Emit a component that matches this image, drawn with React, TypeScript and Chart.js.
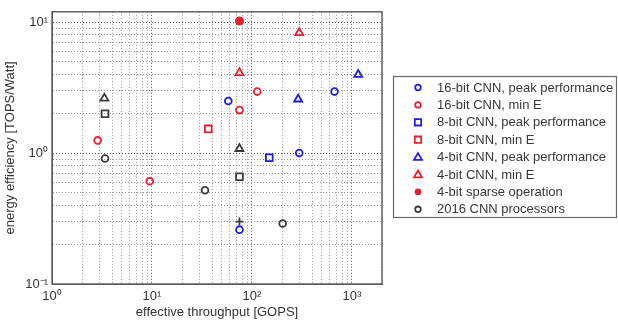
import React, { useEffect, useRef } from "react";
import { Chart, registerables } from "chart.js";

Chart.register(...registerables);

// ---- data ----
const seriesNames = [
  "16-bit CNN, peak performance",
  "16-bit CNN, min E",
  "8-bit CNN, peak performance",
  "8-bit CNN, min E",
  "4-bit CNN, peak performance",
  "4-bit CNN, min E",
  "4-bit sparse operation",
  "2016 CNN processors",
];

const peak16X = [58, 670, 297, 75];
const peak16Y = [2.5, 2.95, 1.0, 0.26];

const minE16X = [2.86, 113, 75, 9.5];
const minE16Y = [1.25, 2.95, 2.13, 0.61];

const peak8X = [149];
const peak8Y = [0.92];

const minE8X = [36.6];
const minE8Y = [1.53];

const peak4X = [1156, 290];
const peak4Y = [3.98, 2.58];

const minE4X = [297, 75];
const minE4Y = [8.3, 4.1];

const sparse4X = [75];
const sparse4Y = [10.2];

const prior2016X = [3.34, 3.39, 3.39, 33.9, 75, 75, 75, 203];
const prior2016Y = [2.62, 2.0, 0.91, 0.52, 1.08, 0.66, 0.3, 0.29];
const prior2016Shapes = ["triangle", "rect", "circle", "circle", "triangle", "rect", "cross", "circle"];

const xDecades = [1, 10, 100, 1000];
const yDecades = [0.1, 1, 10];
const xMin = 1, xMax = 2000;
const yMin = 0.1, yMax = 12;

const supers: Record<string, string> = { "-": "⁻", "0": "⁰", "1": "¹", "2": "²", "3": "³" };
const decadeLabel = (v: number) => {
  const e = Math.round(Math.log10(v)).toString();
  return "10" + e.split("").map((c) => supers[c] || c).join("");
};

const BLUE = "#1e1ee6";
const RED = "#e6202e";
const GRAY = "#3c3c3c";

const pts = (xs: number[], ys: number[]) => xs.map((x, i) => ({ x, y: ys[i] }));

const isDecade = (v: number) => Math.abs(Math.log10(v) - Math.round(Math.log10(v))) < 1e-6;

const logTicks = (lo: number, hi: number) => {
  const out: { value: number }[] = [];
  let d = Math.pow(10, Math.floor(Math.log10(lo)));
  while (d <= hi) {
    for (let m = 1; m < 10; m++) {
      const v = d * m;
      if (v >= lo - 1e-9 && v <= hi + 1e-9) out.push({ value: v });
    }
    d *= 10;
  }
  return out;
};

const FONT = "'Liberation Sans', Arial, sans-serif";

const legendPlugin = {
  id: "boxLegend",
  afterDraw(chart: any) {
    const ctx = chart.ctx;
    ctx.save();
    const bx = 393, by = 76, bw = 223, bh = 141;
    ctx.strokeStyle = "#6a6a6a";
    ctx.lineWidth = 1.2;
    ctx.strokeRect(bx + 0.5, by + 0.5, bw, bh);
    chart.data.datasets.forEach((ds: any, i: number) => {
      const y = 87.5 + i * 17.4;
      const x = 418;
      ctx.strokeStyle = ds.borderColor;
      ctx.fillStyle = ds.backgroundColor;
      ctx.lineWidth = 1.8;
      const style = ds.legendStyle;
      ctx.beginPath();
      if (style === "circle") {
        ctx.arc(x, y, 2.8, 0, Math.PI * 2);
        ctx.stroke();
      } else if (style === "rect") {
        ctx.rect(x - 3.2, y - 3.2, 6.4, 6.4);
        ctx.stroke();
      } else if (style === "triangle") {
        ctx.moveTo(x, y - 4);
        ctx.lineTo(x + 4, y + 2.8);
        ctx.lineTo(x - 4, y + 2.8);
        ctx.closePath();
        ctx.stroke();
      } else if (style === "filled") {
        ctx.arc(x, y, 3.3, 0, Math.PI * 2);
        ctx.fill();
      }
      ctx.fillStyle = "#383838";
      ctx.font = "13px " + FONT;
      ctx.textBaseline = "middle";
      ctx.textAlign = "left";
      ctx.fillText(seriesNames[i], 437, y + 0.5);
    });
    ctx.restore();
  },
};

const framePlugin = {
  id: "frame",
  afterDatasetsDraw(chart: any) {
    const { ctx, chartArea } = chart;
    ctx.save();
    ctx.strokeStyle = "#5a5a5a";
    ctx.lineWidth = 1.4;
    ctx.strokeRect(chartArea.left, chartArea.top, chartArea.right - chartArea.left, chartArea.bottom - chartArea.top);
    ctx.restore();
  },
};

const gridColor = (c: any) => (c.tick && isDecade(c.tick.value) ? "#555555" : "#9a9a9a");

export default function App() {
  const ref = useRef<HTMLCanvasElement | null>(null);

  useEffect(() => {
    if (!ref.current) return;
    const mk = (label: string, data: any, color: string, style: any, radius: any, legendStyle: string, filled = false) => ({
      label,
      data,
      borderColor: color,
      backgroundColor: filled ? color : "rgba(0,0,0,0)",
      pointStyle: style,
      pointRadius: radius,
      pointBorderWidth: 1.8,
      showLine: false,
      legendStyle,
    });
    const chart = new Chart(ref.current, {
      type: "scatter",
      data: {
        datasets: [
          mk(seriesNames[0], pts(peak16X, peak16Y), BLUE, "circle", 3.4, "circle"),
          mk(seriesNames[1], pts(minE16X, minE16Y), RED, "circle", 3.4, "circle"),
          mk(seriesNames[2], pts(peak8X, peak8Y), BLUE, "rect", 4.8, "rect"),
          mk(seriesNames[3], pts(minE8X, minE8Y), RED, "rect", 4.8, "rect"),
          mk(seriesNames[4], pts(peak4X, peak4Y), BLUE, "triangle", 4.6, "triangle"),
          mk(seriesNames[5], pts(minE4X, minE4Y), RED, "triangle", 4.6, "triangle"),
          mk(seriesNames[6], pts(sparse4X, sparse4Y), RED, "circle", 3.6, "filled", true),
          mk(
            seriesNames[7],
            pts(prior2016X, prior2016Y),
            GRAY,
            prior2016Shapes,
            prior2016Shapes.map((s) => (s === "circle" ? 3.4 : s === "rect" ? 4.8 : s === "cross" ? 4 : 4.6)),
            "circle"
          ),
        ] as any,
      },
      options: {
        animation: false,
        responsive: false,
        devicePixelRatio: 1,
        layout: { padding: { left: 0, top: 10, right: 236, bottom: 0 } },
        plugins: {
          legend: { display: false },
          tooltip: { enabled: false },
        },
        scales: {
          x: {
            type: "logarithmic",
            min: xMin,
            max: xMax,
            afterBuildTicks: (s: any) => {
              s.ticks = logTicks(xMin, xMax);
            },
            afterFit: (s: any) => {
              s.height = 41;
            },
            ticks: {
              autoSkip: false,
              maxRotation: 0,
              padding: 5,
              color: "#333",
              font: { family: FONT, size: 13 },
              callback: (v: any) => (isDecade(Number(v)) && xDecades.includes(Math.round(Number(v))) ? decadeLabel(Number(v)) : ""),
            },
            grid: {
              drawTicks: false,
              color: gridColor,
              lineWidth: 1,
            },
            border: { display: true, color: "#5a5a5a", width: 1, dash: [1, 2] },
            title: {
              display: true,
              text: "effective throughput [GOPS]",
              color: "#333",
              font: { family: FONT, size: 13 },
              padding: { top: 0, bottom: 5 },
            },
          },
          y: {
            type: "logarithmic",
            min: yMin,
            max: yMax,
            afterBuildTicks: (s: any) => {
              s.ticks = logTicks(yMin, yMax);
            },
            afterFit: (s: any) => {
              s.width = 52;
            },
            ticks: {
              autoSkip: false,
              padding: 4,
              color: "#333",
              font: { family: FONT, size: 13 },
              callback: (v: any) => {
                const n = Number(v);
                return yDecades.some((d) => Math.abs(d - n) / d < 1e-6) ? decadeLabel(n) : "";
              },
            },
            grid: {
              drawTicks: false,
              color: gridColor,
              lineWidth: 1,
            },
            border: { display: true, color: "#5a5a5a", width: 1, dash: [1, 2] },
            title: {
              display: true,
              text: "energy efficiency [TOPS/Watt]",
              color: "#333",
              font: { family: FONT, size: 13 },
              padding: { top: 3, bottom: 0 },
            },
          },
        },
      } as any,
      plugins: [framePlugin, legendPlugin],
    });
    return () => chart.destroy();
  }, []);

  return (
    <div style={{ position: "absolute", left: 0, top: 0, width: 618, height: 325, background: "#fff" }}>
      <canvas ref={ref} width={618} height={325} style={{ width: 618, height: 325 }} />
    </div>
  );
}
